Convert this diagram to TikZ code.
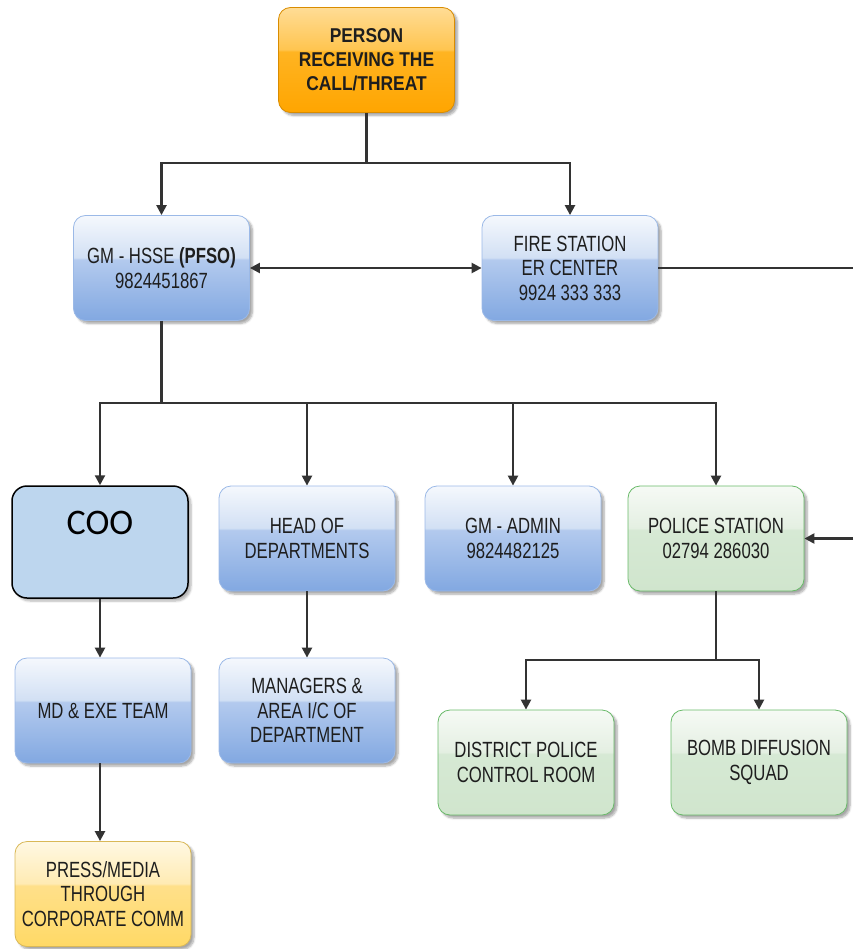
\documentclass[tikz,border=0pt]{standalone}
\usepackage{fontspec}
\setmainfont{Liberation Sans}[FakeStretch=0.76]
\newfontfamily\headfont{Liberation Sans}[FakeStretch=0.87]
\newfontfamily\coofont{Carlito}
\usetikzlibrary{arrows.meta,shadows.blur}

\definecolor{inkline}{HTML}{333333}
\definecolor{inktext}{HTML}{1E1E1E}
% glossy blue
\definecolor{bbot}{HTML}{82A8E1}
\definecolor{bmid}{HTML}{B3CAEE}
\definecolor{bgls}{HTML}{D2E0F4}
\definecolor{btop}{HTML}{F5F8FD}
% glossy green
\definecolor{gbot}{HTML}{D0E5CD}
\definecolor{gmid}{HTML}{D6E9D4}
\definecolor{ggls}{HTML}{E4EFE2}
\definecolor{gtop}{HTML}{F6FAF5}
% glossy orange
\definecolor{obot}{HTML}{FFA500}
\definecolor{omid}{HTML}{FFB422}
\definecolor{ogls}{HTML}{FFC550}
\definecolor{otop}{HTML}{FFDC95}
% glossy yellow
\definecolor{ybot}{HTML}{FFD966}
\definecolor{ymid}{HTML}{FFE08A}
\definecolor{ygls}{HTML}{FFEBB3}
\definecolor{ytop}{HTML}{FFF8E3}
\definecolor{coofill}{HTML}{BDD6EE}

\pgfdeclareverticalshading{glossblue}{100bp}{color(0bp)=(bbot); color(25bp)=(bbot); color(54bp)=(bmid); color(55bp)=(bgls); color(75bp)=(btop); color(100bp)=(btop)}
\pgfdeclareverticalshading{glossgreen}{100bp}{color(0bp)=(gbot); color(25bp)=(gbot); color(54bp)=(gmid); color(55bp)=(ggls); color(75bp)=(gtop); color(100bp)=(gtop)}
\pgfdeclareverticalshading{glossorange}{100bp}{color(0bp)=(obot); color(25bp)=(obot); color(54bp)=(omid); color(55bp)=(ogls); color(75bp)=(otop); color(100bp)=(otop)}
\pgfdeclareverticalshading{glossyellow}{100bp}{color(0bp)=(ybot); color(25bp)=(ybot); color(54bp)=(ymid); color(55bp)=(ygls); color(75bp)=(ytop); color(100bp)=(ytop)}

\tikzset{
  box/.style={rectangle, rounded corners=12pt, minimum width=176pt, minimum height=105pt,
    inner sep=0pt, align=center, text=inktext, line width=0.8pt,
    font=\fontsize{22}{24.5}\selectfont,
    blur shadow={shadow xshift=3pt, shadow yshift=-3pt, shadow blur steps=6, shadow opacity=35}},
  bluebox/.style={box, shading=glossblue, draw=bbot!80!white},
  greenbox/.style={box, shading=glossgreen, draw=gbot!40!green!50!gray},
  orangebox/.style={box, shading=glossorange, draw=obot!85!black, font=\headfont\bfseries\fontsize{20}{24}\selectfont},
  yellowbox/.style={box, shading=glossyellow, draw=ybot!85!black},
  coobox/.style={rectangle, rounded corners=15pt, minimum width=176pt, minimum height=112pt,
    inner sep=0pt, fill=coofill, draw=black, line width=1.5pt,
    blur shadow={shadow xshift=3pt, shadow yshift=-3pt, shadow blur steps=6, shadow opacity=30}},
  link/.style={draw=inkline, line width=2.3pt},
  arr/.style={link, -{Triangle[length=10pt,width=10pt]}},
  biarr/.style={link, {Triangle[length=10pt,width=10pt]}-{Triangle[length=10pt,width=10pt]}},
}

\begin{document}
\begin{tikzpicture}[x=1pt,y=-1pt]
  \useasboundingbox (0,0) rectangle (853,949);

  % boxes
  \node[orangebox] (person) at (366.5,60) {PERSON\\RECEIVING THE\\CALL/THREAT};
  \node[bluebox] (gm) at (161.5,268) {GM - HSSE \textbf{(PFSO)}\\9824451867};
  \node[bluebox] (fire) at (570,268) {FIRE STATION\\ER CENTER\\9924 333 333};

  \node[coobox] (coo) at (100,542) {};
  \node[font=\coofont\fontsize{36}{40}\selectfont, text=black] (cootext) at (100,523) {COO};
  \node[bluebox] (hod) at (307,538.5) {HEAD OF\\DEPARTMENTS};
  \node[bluebox] (admin) at (513,538.5) {GM - ADMIN\\9824482125};
  \node[greenbox] (police) at (716,538.5) {POLICE STATION\\02794 286030};

  \node[bluebox] (md) at (103,710.5) {MD \& EXE TEAM};
  \node[bluebox] (mgr) at (307,710.5) {MANAGERS \&\\AREA I/C OF\\DEPARTMENT};
  \node[greenbox] (dpcr) at (526,762.5) {DISTRICT POLICE\\CONTROL ROOM};
  \node[greenbox] (bomb) at (759,762.5) {BOMB DIFFUSION\\SQUAD};

  \node[yellowbox] (press) at (103,894) {PRESS/MEDIA\\THROUGH\\CORPORATE COMM};

  % junction points of the buses
  \coordinate (j1) at (366.5,163);
  \coordinate (j2) at (161.5,403);
  \coordinate (j3) at (716,660);
  \coordinate (exitA) at (853,268);
  \coordinate (entryB) at (853,538.5);

  % connectors
  \draw[link] (person.south) -- (j1);
  \draw[arr] (j1) -| (gm.north);
  \draw[arr] (j1) -| (fire.north);
  \draw[biarr] (gm.east) -- (fire.west);
  \draw[link] (fire.east) -- (exitA);
  \draw[arr] (entryB) -- (police.east);

  \draw[link] (gm.south) -- (j2);
  \draw[arr] (j2) -| (coo.north);
  \draw[arr] (j2) -| (hod.north);
  \draw[arr] (j2) -| (admin.north);
  \draw[arr] (j2) -| (police.north);

  \draw[arr] (coo.south) -- (coo.south |- md.north);
  \draw[arr] (md.south -| coo.south) -- (coo.south |- press.north);
  \draw[arr] (hod.south) -- (mgr.north);

  \draw[link] (police.south) -- (j3);
  \draw[arr] (j3) -| (dpcr.north);
  \draw[arr] (j3) -| (bomb.north);
\end{tikzpicture}
\end{document}
